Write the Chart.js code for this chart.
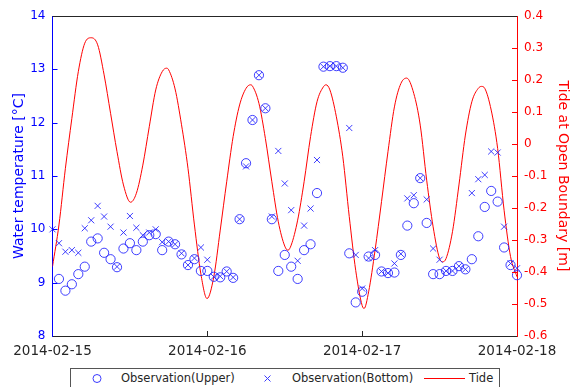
<!DOCTYPE html>
<html><head><meta charset="utf-8">
<script src="https://cdn.jsdelivr.net/npm/chart.js@4"></script>
<style>
html,body{margin:0;padding:0;background:#fff;}
#wrap{position:relative;width:573px;height:387px;overflow:hidden;background:#fff;}
#c{position:absolute;left:0;top:0;}
#legend{position:absolute;left:70px;top:368px;width:430px;height:20px;border:1px solid #555;background:#fff;box-sizing:border-box;font-family:"DejaVu Sans",sans-serif;font-size:11.5px;color:#262626;}
#legend svg{position:absolute;left:0;top:0;}
.lt{position:absolute;top:0;line-height:18px;white-space:nowrap;}
</style></head>
<body>
<div id="wrap">
<canvas id="c" width="573" height="387"></canvas>
<div id="legend">
<svg width="430" height="20">
<circle cx="26" cy="9.5" r="4" fill="none" stroke="#3a3aff" stroke-width="1"/>
<path d="M193.5 6.5 L199.5 12.5 M199.5 6.5 L193.5 12.5" stroke="#3a3aff" stroke-width="1" fill="none"/>
<line x1="353" y1="9.5" x2="394" y2="9.5" stroke="#ff0000" stroke-width="1"/>
</svg>
<span class="lt" id="l0" style="left:50px"></span>
<span class="lt" id="l1" style="left:221px"></span>
<span class="lt" id="l2" style="left:398px"></span>
</div>
</div>
<script>
// ---- data ----
const seriesNames = ['Observation(Upper)', 'Observation(Bottom)', 'Tide'];
const dateLabels = ['2014-02-15', '2014-02-16', '2014-02-17', '2014-02-18'];
const dateTickHours = [0, 24, 48, 72];
// hourly observations, hour 0 .. 72 (°C)
const upperTemp = [null, 9.07, 8.85, 8.97, 9.16, 9.30, 9.77, 9.83, 9.56, 9.44,
  9.29, 9.64, 9.74, 9.61, 9.77, 9.89, 9.91, 9.61, 9.77, 9.72,
  9.53, 9.33, 9.44, 9.22, 9.22, 9.11, 9.10, 9.21, 9.09, 10.19,
  11.24, 12.05, 12.89, 12.27, 10.19, 9.22, 9.52, 9.30, 9.07, 9.61,
  9.72, 10.68, 13.05, 13.06, 13.06, 13.03, 9.55, 8.63, 8.83, 9.49,
  9.52, 9.21, 9.18, 9.19, 9.52, 10.07, 10.49, 10.96, 10.12, 9.16,
  9.16, 9.22, 9.22, 9.31, 9.25, 9.44, 9.87, 10.42, 10.72, 10.52,
  9.66, 9.33, 9.14];
const bottomTemp = [10.00, 9.74, 9.58, 9.61, 9.56, 10.02, 10.17, 10.44, 10.24, 10.05,
  9.30, 9.94, 10.25, 10.03, 9.89, 9.94, 10.00, 9.76, 9.77, 9.72,
  9.55, 9.33, 9.46, 9.66, 9.43, 9.11, 9.12, 9.21, 9.10, 10.19,
  11.18, 12.05, 12.89, 12.27, 10.24, 11.47, 10.86, 10.36, 9.41, 10.07,
  10.39, 11.30, 13.05, 13.06, 13.06, 13.03, 11.90, 9.52, 8.89, 9.46,
  9.61, 9.21, 9.18, 9.36, 9.54, 10.58, 10.64, 10.96, 10.56, 9.64,
  9.43, 9.22, 9.22, 9.31, 9.25, 10.68, 10.94, 11.02, 11.46, 11.44,
  10.05, 9.36, 9.27];
// tide at open boundary (m), sampled times in hours
const tideHours = [0, 1, 2, 3, 4, 5, 6, 7, 8, 9, 10, 11, 12.1, 13, 14, 15, 16, 17, 17.7, 18,
  19, 20, 21, 22, 23, 23.95, 25, 26, 27, 28, 29, 30, 30.7, 31, 32, 33, 34, 35, 36, 36.5,
  37, 38, 39, 40, 41, 42, 42.4, 43, 44, 45, 46, 47, 48, 48.3, 49, 50, 51, 52, 53, 54,
  54.9, 56, 57, 58, 59, 60, 60.5, 61, 62, 63, 64, 65, 66, 66.5, 67, 68, 69, 70, 71, 72];
const tideLevel = [-0.383, -0.253, -0.076, 0.080, 0.226, 0.315, 0.332, 0.310, 0.216, 0.096,
  -0.024, -0.128, -0.182, -0.154, -0.066, 0.054, 0.169, 0.226, 0.237, 0.232,
  0.172, 0.060, -0.076, -0.253, -0.406, -0.483, -0.415, -0.269, -0.118, 0.023,
  0.122, 0.174, 0.185, 0.181, 0.127, 0.017, -0.118, -0.243, -0.319, -0.332,
  -0.316, -0.238, -0.118, 0.023, 0.132, 0.179, 0.185, 0.169, 0.085, -0.040,
  -0.227, -0.395, -0.505, -0.514, -0.462, -0.332, -0.180, -0.024, 0.116, 0.189,
  0.206, 0.158, 0.059, -0.113, -0.259, -0.358, -0.368, -0.358, -0.274, -0.128,
  0.028, 0.132, 0.174, 0.180, 0.174, 0.106, -0.014, -0.207, -0.352, -0.415];
const tempTicks = [9, 10, 11, 12, 13];
const tideTicks = [-0.5, -0.4, -0.3, -0.2, -0.1, 0, 0.1, 0.2, 0.3];

document.getElementById('l0').textContent = seriesNames[0];
document.getElementById('l1').textContent = seriesNames[1];
document.getElementById('l2').textContent = seriesNames[2];

const BLUE = '#0000ff', RED = '#ff0000', DARK = '#262626';
const MARK = 'rgba(30,30,255,0.85)';
const FONT = 'DejaVu Sans';

const framePlugin = {
  id: 'frame',
  afterDraw(chart) {
    const {ctx, chartArea: a, scales} = chart;
    ctx.save();
    ctx.lineWidth = 1;
    // top box line
    ctx.strokeStyle = DARK;
    ctx.beginPath(); ctx.moveTo(a.left, Math.round(a.top) + 0.5); ctx.lineTo(a.right, Math.round(a.top) + 0.5); ctx.stroke();
    // inward x ticks
    dateTickHours.slice(1, -1).forEach(h => {
      const x = Math.round(scales.x.getPixelForValue(h)) + 0.5;
      ctx.beginPath(); ctx.moveTo(x, a.bottom); ctx.lineTo(x, a.bottom - 5); ctx.stroke();
    });
    // inward left ticks
    ctx.strokeStyle = BLUE;
    tempTicks.forEach(v => {
      const y = Math.round(scales.y.getPixelForValue(v)) + 0.5;
      ctx.beginPath(); ctx.moveTo(a.left, y); ctx.lineTo(a.left + 5, y); ctx.stroke();
    });
    // inward right ticks
    ctx.strokeStyle = RED;
    tideTicks.forEach(v => {
      const y = Math.round(scales.y1.getPixelForValue(v)) + 0.5;
      ctx.beginPath(); ctx.moveTo(a.right, y); ctx.lineTo(a.right - 5, y); ctx.stroke();
    });
    ctx.restore();
  }
};

new Chart(document.getElementById('c'), {
  data: {
    datasets: [
      {
        type: 'scatter', label: seriesNames[0], yAxisID: 'y',
        data: upperTemp.map((v, i) => ({x: i, y: v})),
        pointStyle: 'circle', pointRadius: 4.6, pointBorderWidth: 1,
        pointBorderColor: MARK, pointBackgroundColor: 'rgba(0,0,0,0)',
        borderColor: MARK, backgroundColor: 'rgba(0,0,0,0)', showLine: false, clip: false, order: 1
      },
      {
        type: 'scatter', label: seriesNames[1], yAxisID: 'y',
        data: bottomTemp.map((v, i) => ({x: i, y: v})),
        pointStyle: 'crossRot', pointRadius: 4.3, pointBorderWidth: 1,
        pointBorderColor: MARK, borderColor: MARK, showLine: false, clip: false, order: 2
      },
      {
        type: 'line', label: seriesNames[2], yAxisID: 'y1',
        data: tideHours.map((h, i) => ({x: h, y: tideLevel[i]})),
        borderColor: RED, borderWidth: 1, pointRadius: 0, fill: false,
        cubicInterpolationMode: 'monotone', order: 3
      }
    ]
  },
  options: {
    responsive: false, animation: false, devicePixelRatio: 1,
    layout: {padding: {top: 16, left: 0, right: 0, bottom: 0}},
    plugins: {legend: {display: false}, tooltip: {enabled: false}},
    scales: {
      x: {
        type: 'linear', position: 'bottom', min: 0, max: 72,
        afterBuildTicks: s => { s.ticks = dateTickHours.map(v => ({value: v})); },
        afterFit: s => { s.height = 51; },
        grid: {display: false, drawTicks: false},
        border: {display: true, color: DARK, width: 1},
        ticks: {
          autoSkip: false, maxRotation: 0, padding: 7, color: DARK,
          font: {family: FONT, size: 13.5},
          callback: v => dateLabels[dateTickHours.indexOf(v)]
        }
      },
      y: {
        type: 'linear', position: 'left', min: 8, max: 14,
        afterFit: s => { s.width = 52.5; },
        grid: {display: false, drawTicks: false},
        border: {display: true, color: BLUE, width: 1},
        ticks: {stepSize: 1, padding: 7, color: BLUE, font: {family: FONT, size: 12}},
        title: {display: true, text: 'Water temperature [°C]', color: BLUE,
          font: {family: FONT, size: 14}, padding: {top: 10.5, bottom: 0}}
      },
      y1: {
        type: 'linear', position: 'right', min: -0.6, max: 0.4,
        afterFit: s => { s.width = 56; },
        grid: {display: false, drawTicks: false, drawOnChartArea: false},
        border: {display: true, color: RED, width: 1},
        ticks: {stepSize: 0.1, padding: 7, color: RED, font: {family: FONT, size: 12}},
        title: {display: true, text: 'Tide at Open Boundary [m]', color: RED,
          font: {family: FONT, size: 14}, padding: {top: 2, bottom: 0}}
      }
    }
  },
  plugins: [framePlugin]
});
</script>
</body></html>
